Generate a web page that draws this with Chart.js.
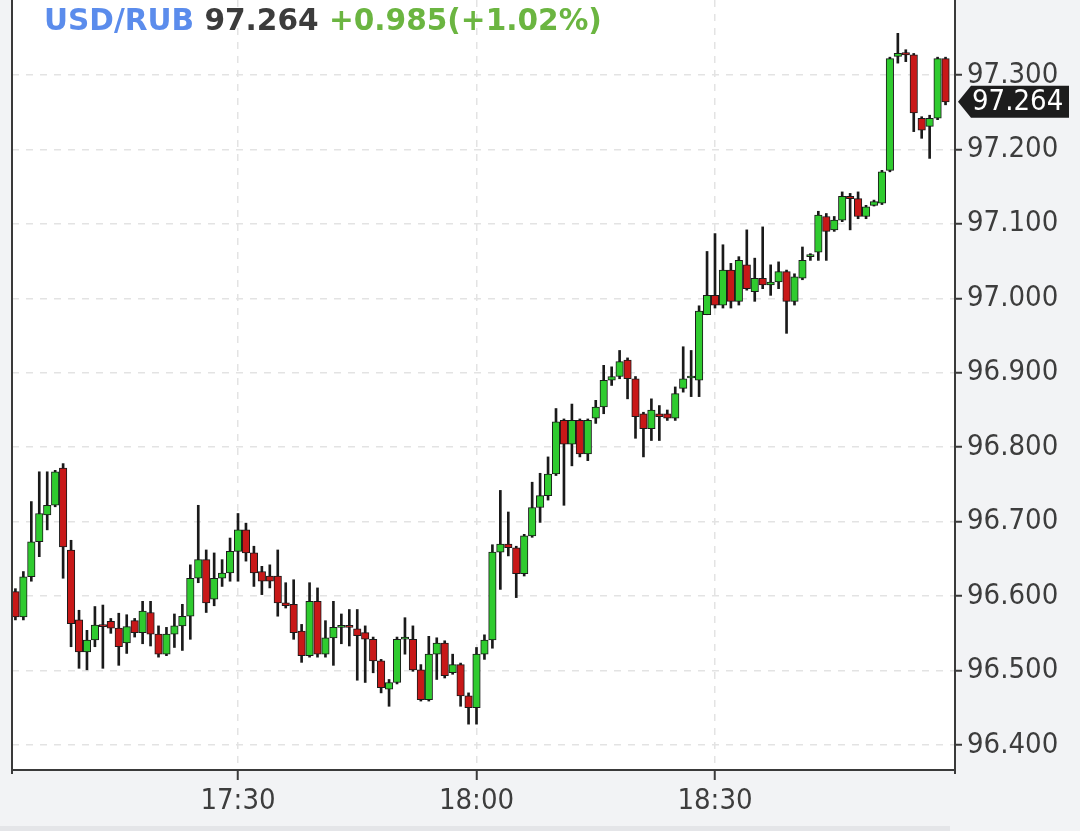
<!DOCTYPE html>
<html><head><meta charset="utf-8">
<script src="https://cdn.jsdelivr.net/npm/chart.js@4/dist/chart.umd.min.js"></script>
<style>
html,body{margin:0;padding:0;background:#f2f3f5;}
#wrap{position:relative;width:1080px;height:831px;overflow:hidden;}
canvas{position:absolute;left:0;top:0;}
#title{position:absolute;left:44px;top:2px;font:bold 29.6px "DejaVu Sans";white-space:pre;line-height:36px;}
</style></head><body>
<div id="wrap"><canvas id="c" width="1080" height="831"></canvas>
<div id="title"></div></div>
<script>
// ---- data (minutes after 17:00, 1-minute candles) ----
const symbol = 'USD/RUB';
const lastText = '97.264';
const changeText = '+0.985(+1.02%)';
const minutes = [2,3,4,5,6,7,8,9,10,11,12,13,14,15,16,17,18,19,20,21,22,23,24,25,26,27,28,29,30,31,32,33,34,35,36,37,38,39,40,41,42,43,44,45,46,47,48,49,50,51,52,53,54,55,56,57,58,59,60,61,62,63,64,65,66,67,68,69,70,71,72,73,74,75,76,77,78,79,80,81,82,83,84,85,86,87,88,89,90,91,92,93,94,95,96,97,98,99,100,101,102,103,104,105,106,107,108,109,110,111,112,113,114,115,116,117,118,119];
const opens = [96.606,96.572,96.626,96.673,96.709,96.722,96.772,96.662,96.568,96.525,96.541,96.561,96.566,96.557,96.537,96.567,96.551,96.578,96.549,96.522,96.549,96.560,96.573,96.624,96.649,96.596,96.624,96.631,96.660,96.689,96.658,96.633,96.627,96.627,96.591,96.589,96.553,96.520,96.593,96.522,96.544,96.558,96.560,96.556,96.551,96.542,96.513,96.475,96.484,96.542,96.542,96.501,96.461,96.522,96.537,96.497,96.508,96.466,96.450,96.522,96.541,96.659,96.670,96.665,96.630,96.681,96.719,96.735,96.764,96.836,96.804,96.836,96.791,96.839,96.854,96.890,96.895,96.917,96.892,96.845,96.825,96.845,96.845,96.839,96.879,96.893,96.890,96.978,97.004,96.991,97.038,96.996,97.045,97.009,97.027,97.018,97.022,97.036,96.996,97.027,97.056,97.062,97.110,97.092,97.105,97.137,97.134,97.110,97.125,97.128,97.172,97.325,97.330,97.327,97.242,97.231,97.242,97.322];
const highs = [96.610,96.633,96.727,96.767,96.767,96.769,96.778,96.675,96.581,96.554,96.586,96.588,96.570,96.577,96.575,96.570,96.593,96.593,96.560,96.558,96.576,96.589,96.642,96.722,96.662,96.658,96.649,96.678,96.711,96.698,96.667,96.640,96.642,96.662,96.618,96.622,96.562,96.618,96.611,96.567,96.593,96.576,96.582,96.582,96.560,96.545,96.515,96.488,96.545,96.571,96.560,96.508,96.546,96.544,96.540,96.522,96.510,96.470,96.531,96.548,96.669,96.742,96.713,96.667,96.683,96.753,96.765,96.787,96.852,96.838,96.858,96.838,96.838,96.863,96.910,96.908,96.930,96.920,96.895,96.847,96.865,96.856,96.850,96.881,96.935,96.930,96.990,97.063,97.087,97.072,97.047,97.056,97.092,97.054,97.096,97.045,97.049,97.038,97.033,97.069,97.060,97.117,97.114,97.110,97.143,97.141,97.143,97.125,97.132,97.172,97.324,97.356,97.334,97.329,97.244,97.246,97.324,97.324];
const lows = [96.568,96.568,96.620,96.653,96.689,96.720,96.624,96.532,96.503,96.501,96.532,96.503,96.550,96.507,96.523,96.545,96.536,96.533,96.518,96.520,96.531,96.527,96.542,96.618,96.578,96.587,96.613,96.620,96.620,96.647,96.613,96.602,96.611,96.573,96.584,96.542,96.511,96.518,96.518,96.518,96.507,96.536,96.533,96.487,96.484,96.497,96.470,96.452,96.482,96.522,96.499,96.459,96.459,96.488,96.490,96.495,96.452,96.428,96.428,96.515,96.530,96.609,96.654,96.598,96.627,96.679,96.699,96.729,96.762,96.722,96.775,96.787,96.782,96.832,96.845,96.883,96.892,96.865,96.812,96.787,96.809,96.809,96.836,96.836,96.874,96.868,96.868,96.978,96.987,96.987,96.987,96.991,97.011,96.996,97.013,97.004,97.013,96.953,96.991,97.025,97.051,97.051,97.051,97.090,97.103,97.092,97.107,97.107,97.124,97.126,97.170,97.316,97.318,97.224,97.215,97.188,97.240,97.260];
const closes = [96.572,96.626,96.673,96.711,96.722,96.767,96.666,96.563,96.525,96.541,96.561,96.559,96.557,96.532,96.559,96.551,96.580,96.549,96.522,96.549,96.560,96.573,96.624,96.649,96.591,96.624,96.631,96.660,96.689,96.658,96.631,96.620,96.620,96.591,96.587,96.551,96.520,96.593,96.522,96.544,96.558,96.560,96.558,96.547,96.542,96.513,96.477,96.484,96.542,96.545,96.501,96.461,96.522,96.537,96.493,96.508,96.466,96.450,96.522,96.541,96.659,96.670,96.665,96.630,96.681,96.719,96.735,96.764,96.834,96.804,96.836,96.791,96.836,96.854,96.890,96.895,96.915,96.892,96.841,96.825,96.850,96.841,96.839,96.872,96.892,96.894,96.983,97.004,96.991,97.038,96.996,97.051,97.013,97.027,97.018,97.022,97.036,96.996,97.029,97.051,97.058,97.112,97.090,97.105,97.137,97.134,97.110,97.123,97.130,97.170,97.322,97.329,97.327,97.249,97.226,97.242,97.322,97.264];
const timeTicks = [30, 60, 90];
const timeLabels = ['17:30', '18:00', '18:30'];
const priceTicks = [96.4, 96.5, 96.6, 96.7, 96.8, 96.9, 97.0, 97.1, 97.2, 97.3];

// ---- title as real text ----
document.getElementById('title').innerHTML =
  '<span style="color:#5b8cec">' + symbol + '</span> ' +
  '<span style="color:#3c3c3c">' + lastText + '</span> ' +
  '<span style="color:#6bb541">' + changeText + '</span>';

const GREEN = '#2fcb2f', RED = '#c81818', INK = '#1a1a1a';
const AXIS_FONT = '"DejaVu Sans Condensed", "DejaVu Sans"';
const bodies = minutes.map((m, i) => ({x: m, y: [opens[i], closes[i]]}));
const wicks = minutes.map((m, i) => ({x: m, y: [lows[i], highs[i]]}));
const bodyColors = minutes.map((m, i) => closes[i] >= opens[i] ? GREEN : RED);

const frame = {
  id: 'frame',
  beforeDraw(chart) {
    const a = chart.chartArea, ctx = chart.ctx;
    ctx.save();
    ctx.fillStyle = '#ffffff';
    ctx.fillRect(a.left, a.top, a.right - a.left, a.bottom - a.top);
    ctx.fillStyle = '#e4e5e8';
    ctx.fillRect(0, 826, 950, 5);
    ctx.restore();
  },
  afterDraw(chart) {
    const a = chart.chartArea, ctx = chart.ctx;
    ctx.save();
    ctx.strokeStyle = '#3a3a3a';
    ctx.lineWidth = 2;
    ctx.beginPath();
    ctx.moveTo(a.left, 0); ctx.lineTo(a.left, a.bottom + 4);
    ctx.moveTo(a.right, a.bottom); ctx.lineTo(a.right, a.bottom + 4);
    ctx.stroke();
    // last price tag
    const y = chart.scales.y.getPixelForValue(closes[closes.length - 1]);
    const x0 = a.right + 3;
    ctx.fillStyle = '#1d1d1d';
    ctx.beginPath();
    ctx.moveTo(x0, y);
    ctx.lineTo(x0 + 13, y - 16);
    ctx.lineTo(1069, y - 16);
    ctx.lineTo(1069, y + 16);
    ctx.lineTo(x0 + 13, y + 16);
    ctx.closePath();
    ctx.fill();
    ctx.fillStyle = '#ffffff';
    ctx.font = '29px ' + AXIS_FONT;
    ctx.textBaseline = 'middle';
    ctx.textAlign = 'left';
    ctx.fillText(closes[closes.length - 1].toFixed(3), x0 + 14, y + 1);
    ctx.restore();
  }
};

new Chart(document.getElementById('c'), {
  type: 'bar',
  data: {
    datasets: [
      {data: bodies, backgroundColor: bodyColors, borderColor: INK, borderWidth: 1,
       borderSkipped: false, barThickness: 7.5, grouped: false, order: 0, minBarLength: 2},
      {data: wicks, backgroundColor: INK, borderWidth: 0, barThickness: 2,
       grouped: false, order: 1}
    ]
  },
  options: {
    responsive: false,
    animation: false,
    layout: {padding: {left: 12, top: 0, right: 0, bottom: 0}},
    plugins: {legend: {display: false}, tooltip: {enabled: false}, title: {display: false}},
    scales: {
      x: {
        type: 'linear', min: 1.57, max: 120.19, offset: false,
        afterBuildTicks: s => { s.ticks = timeTicks.map(v => ({value: v})); },
        afterFit: s => { s.height = 61; s.paddingLeft = 0; s.paddingRight = 0; },
        ticks: {
          callback: (v, i) => timeLabels[i],
          font: {family: AXIS_FONT, size: 29},
          color: '#3d3d3d', maxRotation: 0, autoSkip: false, padding: 4
        },
        grid: {offset: false, color: '#e3e3e3', lineWidth: 1.5, tickColor: '#3a3a3a', tickLength: 10, tickWidth: 2},
        border: {display: true, color: '#3a3a3a', width: 2, dash: [7, 7]}
      },
      y: {
        position: 'right', min: 96.3664, max: 97.4008,
        afterBuildTicks: s => { s.ticks = priceTicks.map(v => ({value: v})); },
        afterFit: s => { s.width = 125; s.paddingTop = 0; s.paddingBottom = 0; },
        ticks: {
          callback: v => v.toFixed(3),
          font: {family: AXIS_FONT, size: 29},
          color: '#3d3d3d', padding: 5
        },
        grid: {color: '#e3e3e3', lineWidth: 1.5, tickColor: '#3a3a3a', tickLength: 7, tickWidth: 2},
        border: {display: true, color: '#3a3a3a', width: 2, dash: [7, 7]}
      }
    }
  },
  plugins: [frame]
});
</script>
</body></html>
